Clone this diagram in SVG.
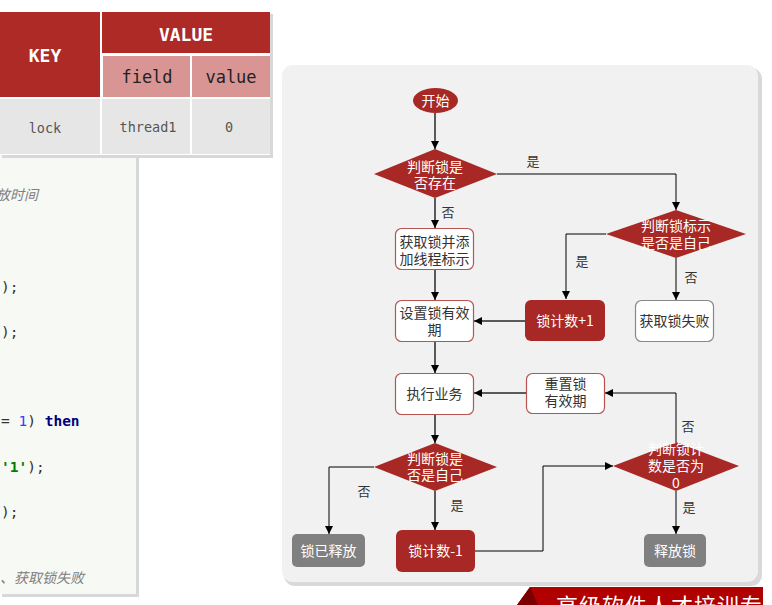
<svg xmlns="http://www.w3.org/2000/svg" width="772" height="605" viewBox="0 0 772 605">
<style>
.cn{font-family:"Noto Sans CJK SC","Noto Sans",sans-serif;font-size:14px;text-anchor:middle}
.w{fill:#ffffff}
.d{fill:#333333}
.lbl{font-family:"Noto Sans CJK SC","Noto Sans",sans-serif;font-size:13px;fill:#333;text-anchor:middle}
.red{fill:#a82825}
.grey{fill:#808080}
.wb{fill:#ffffff;stroke:#b85450;stroke-width:1.2}
.gb{fill:#ffffff;stroke:#888888;stroke-width:1.2}
.c1{fill:none;stroke:#5a5a5a;stroke-width:2}
.c2{fill:none;stroke:#000000;stroke-width:1}
.mono{font-family:"DejaVu Sans Mono","Liberation Mono",monospace}
.code{font-family:"DejaVu Sans Mono","Liberation Mono",monospace;font-size:14.5px;fill:#333}
.cm{font-family:"Noto Sans CJK SC","Noto Sans",sans-serif;font-size:14px;fill:#808080;font-style:italic}
</style>
<defs>
<marker id="ah" viewBox="0 0 10 10" refX="10" refY="5" markerWidth="8" markerHeight="8" markerUnits="userSpaceOnUse" orient="auto">
<path d="M0,0 L10,5 L0,10 z" fill="#000"/>
</marker>
</defs>
<rect width="772" height="605" fill="#ffffff"/>

<!-- code panel -->
<g id="code">
<rect x="2" y="157" width="137" height="440" fill="#d8d8d8"/>
<rect x="0" y="155" width="136" height="439" fill="#f7f9f4"/>
<text class="cm" x="-4" y="200">放时间</text>
<text class="code" x="1" y="292">);</text>
<text class="code" x="1" y="337">);</text>
<text class="code" x="1" y="426">= <tspan fill="#3b3bff">1</tspan>) <tspan fill="#000080" font-weight="bold">then</tspan></text>
<text class="code" x="1" y="472"><tspan fill="#008000" font-weight="bold">'1'</tspan>);</text>
<text class="code" x="1" y="517">);</text>
<text class="cm" x="0" y="583">、获取锁失败</text>
</g>

<!-- table -->
<g id="table">
<rect x="2" y="14" width="271" height="144" fill="#d8d8d8"/>
<rect x="0" y="12" width="270" height="143" fill="#ffffff"/>
<rect x="0" y="12" width="100" height="85" fill="#ad2a27"/>
<rect x="102" y="12" width="168" height="41" fill="#ad2a27"/>
<rect x="103" y="56" width="87" height="41" fill="#d99594"/>
<rect x="192" y="56" width="78" height="41" fill="#d99594"/>
<rect x="0" y="99" width="100" height="55" fill="#e6e6e6"/>
<rect x="102" y="99" width="88" height="55" fill="#e6e6e6"/>
<rect x="192" y="99" width="78" height="55" fill="#e6e6e6"/>
<text class="mono" x="45" y="62" font-size="18" font-weight="bold" fill="#fff" text-anchor="middle">KEY</text>
<text class="mono" x="186" y="41" font-size="18" font-weight="bold" fill="#fff" text-anchor="middle">VALUE</text>
<text class="mono" x="147" y="83" font-size="17" fill="#222" text-anchor="middle">field</text>
<text class="mono" x="231" y="83" font-size="17" fill="#222" text-anchor="middle">value</text>
<text class="mono" x="45" y="133" font-size="13.5" fill="#555" text-anchor="middle">lock</text>
<text class="mono" x="148" y="132" font-size="13.5" fill="#555" text-anchor="middle">thread1</text>
<text class="mono" x="229" y="132" font-size="13.5" fill="#555" text-anchor="middle">0</text>
</g>

<!-- flow panel -->
<g id="panel">
<rect x="284" y="68" width="478" height="518" rx="11" fill="#d9d9d9"/>
<rect x="282" y="65" width="476" height="517" rx="11" fill="#f1f1f1"/>
</g>

<!-- banner -->
<g id="banner">
<polygon points="530,587 763,587 763,605 517,605" fill="#b00000"/>
<polygon points="530,587 538,605 517,605" fill="#7a0000"/>
<text x="556" y="614" font-family="'Liberation Serif','Noto Sans CJK SC',serif" font-size="22" fill="#fff" letter-spacing="1">高级软件人才培训专家</text>
</g>

<!-- connectors -->
<g id="connectors">
<line class="c1" x1="435" y1="113" x2="435" y2="149" marker-end="url(#ah)"/>
<line class="c1" x1="435" y1="198" x2="435" y2="228" marker-end="url(#ah)"/>
<line class="c1" x1="435" y1="270" x2="435" y2="300" marker-end="url(#ah)"/>
<line class="c1" x1="435" y1="341" x2="435" y2="373" marker-end="url(#ah)"/>
<line class="c1" x1="435" y1="415" x2="435" y2="443" marker-end="url(#ah)"/>
<line class="c1" x1="435" y1="491" x2="435" y2="530" marker-end="url(#ah)"/>
<polyline class="c2" points="374,467 329,467 329,534" marker-end="url(#ah)"/>
<polyline class="c2" points="475,551 543,551 543,466 613,466" marker-end="url(#ah)"/>
<polyline class="c2" points="497,174 676,174 676,210" marker-end="url(#ah)"/>
<polyline class="c2" points="606,234 566,234 566,299" marker-end="url(#ah)"/>
<line class="c2" x1="676" y1="258" x2="676" y2="300" marker-end="url(#ah)"/>
<line class="c1" x1="525" y1="321" x2="474" y2="321" marker-end="url(#ah)"/>
<line class="c1" x1="526" y1="393" x2="474" y2="393" marker-end="url(#ah)"/>
<polyline class="c2" points="676,442 676,393 605,393" marker-end="url(#ah)"/>
<line class="c2" x1="676" y1="491" x2="676" y2="534" marker-end="url(#ah)"/>
<text class="lbl" x="448" y="217">否</text>
<text class="lbl" x="533" y="166">是</text>
<text class="lbl" x="582" y="266">是</text>
<text class="lbl" x="691" y="282">否</text>
<text class="lbl" x="364" y="496">否</text>
<text class="lbl" x="457" y="510">是</text>
<text class="lbl" x="688" y="431">否</text>
<text class="lbl" x="689" y="512">是</text>
</g>

<!-- nodes -->
<g id="start">
<ellipse class="red" cx="435.5" cy="100.5" rx="22.5" ry="12.5"/>
<text class="cn w" x="435.5" y="105.5">开始</text>
</g>
<g id="d1">
<polygon class="red" points="374,174 435,149 497,174 435,198"/>
<text class="cn w" x="435" y="172">判断锁是</text>
<text class="cn w" x="435" y="188">否存在</text>
</g>
<g id="b1">
<rect class="wb" x="395.5" y="228.5" width="78" height="41" rx="6"/>
<text class="cn d" x="434.5" y="247">获取锁并添</text>
<text class="cn d" x="434.5" y="264">加线程标示</text>
</g>
<g id="b2">
<rect class="wb" x="395.5" y="300.5" width="78" height="41" rx="6"/>
<text class="cn d" x="434.5" y="318">设置锁有效</text>
<text class="cn d" x="434.5" y="335">期</text>
</g>
<g id="b3">
<rect class="wb" x="395.5" y="373.5" width="78" height="41" rx="6"/>
<text class="cn d" x="434.5" y="399">执行业务</text>
</g>
<g id="d2">
<polygon class="red" points="374,467 435,443 497,467 435,491"/>
<text class="cn w" x="435" y="464">判断锁是</text>
<text class="cn w" x="435" y="480">否是自己</text>
</g>
<g id="released">
<rect class="grey" x="292" y="534" width="73" height="33" rx="5"/>
<text class="cn w" x="328.5" y="555.5">锁已释放</text>
</g>
<g id="dec">
<rect class="red" x="396" y="530" width="79" height="42" rx="6"/>
<text class="cn w" x="435.5" y="556">锁计数-1</text>
</g>
<g id="d3">
<polygon class="red" points="606,234 676,210 746,234 676,258"/>
<text class="cn w" x="676" y="231">判断锁标示</text>
<text class="cn w" x="676" y="248">是否是自己</text>
</g>
<g id="inc">
<rect class="red" x="525" y="300" width="80" height="41" rx="6"/>
<text class="cn w" x="565" y="326">锁计数+1</text>
</g>
<g id="fail">
<rect class="gb" x="635.5" y="300.5" width="78" height="41" rx="6"/>
<text class="cn d" x="674.5" y="326">获取锁失败</text>
</g>
<g id="reset">
<rect class="wb" x="526.5" y="373.5" width="78" height="40" rx="6"/>
<text class="cn d" x="565.5" y="389">重置锁</text>
<text class="cn d" x="565.5" y="406">有效期</text>
</g>
<g id="d4">
<polygon class="red" points="613,466 676,442 739,466 676,491"/>
<text class="cn w" x="676" y="454">判断锁计</text>
<text class="cn w" x="676" y="471">数是否为</text>
<text class="cn w" x="676" y="488">0</text>
</g>
<g id="release">
<rect class="grey" x="644" y="534" width="62" height="33" rx="5"/>
<text class="cn w" x="675" y="555.5">释放锁</text>
</g>
</svg>
